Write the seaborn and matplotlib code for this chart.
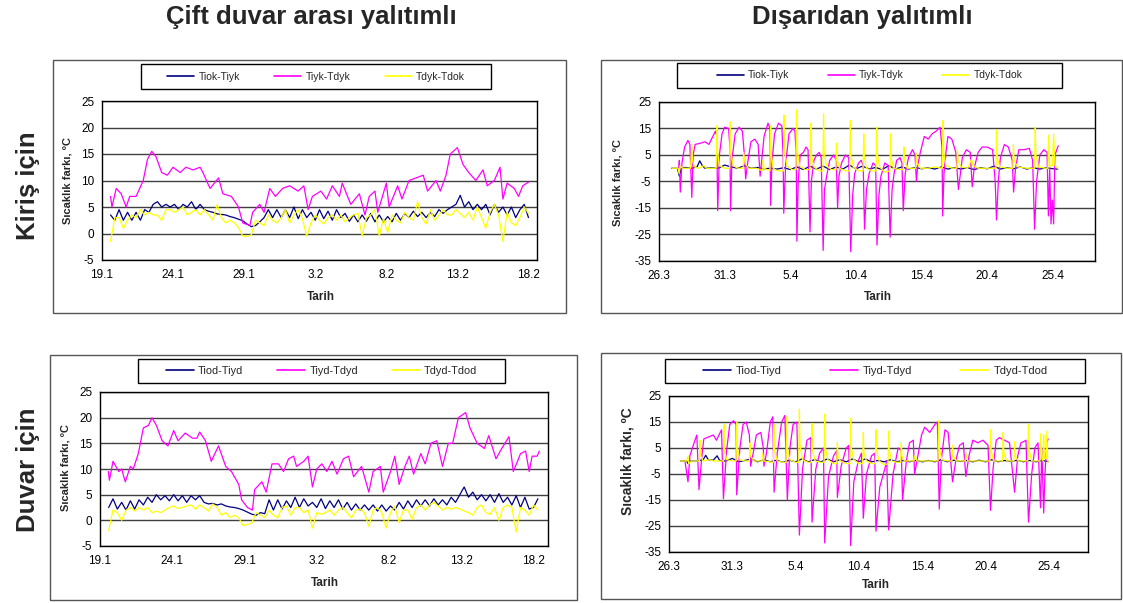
import numpy as np
import matplotlib
matplotlib.use("Agg")
import matplotlib.pyplot as plt
from matplotlib.lines import Line2D
from matplotlib.patches import Rectangle
import seaborn as sns

# ---------------- DATA ----------------
titles_col = ["Çift duvar arası yalıtımlı", "Dışarıdan yalıtımlı"]
titles_row = ["Kiriş için", "Duvar için"]
ylabel = "Sıcaklık farkı, ºC"
xlabel = "Tarih"

left_ticks = ["19.1", "24.1", "29.1", "3.2", "8.2", "13.2", "18.2"]
right_ticks = ["26.3", "31.3", "5.4", "10.4", "15.4", "20.4", "25.4"]
left_yticks = [-5, 0, 5, 10, 15, 20, 25]
right_yticks = [-35, -25, -15, -5, 5, 15, 25]

names_top = ["Tiok-Tiyk", "Tiyk-Tdyk", "Tdyk-Tdok"]
names_bot = ["Tiod-Tiyd", "Tiyd-Tdyd", "Tdyd-Tdod"]

# ---- Top-left (Kiriş, çift duvar arası) : days since 19.1
tl_blue_t0, tl_step = 0.6, 0.3
tl_blue = [3.5, 2.5, 4.5, 2.5, 4, 2.5, 4, 2.5, 4.5, 4, 5.5, 6, 5, 5.5, 5, 5.5, 4.5, 5.5, 5, 6,
           4.5, 5.5, 4.5, 4.2, 4, 3.7, 3.6, 3.5, 3.2, 3, 2.7, 2.4, 1.8, 1.3, 1.5, 2.2, 3, 4.5, 3, 4.5,
           3, 4.5, 3, 5, 2.8, 4.5, 3, 4, 2.5, 4.5, 2.8, 4.2, 2.5, 4.5, 3, 3.8, 2.3, 3.5, 2.2, 3.5,
           2.3, 3.8, 2.2, 3.5, 2.2, 3.2, 2.2, 3.8, 2.5, 3.8, 3, 4.2, 3.2, 4, 3, 4, 3.2, 4.5, 3.8, 4.5,
           5, 5.5, 7.2, 5, 6, 4.5, 5.5, 4.5, 5.5, 3.5, 5.5, 4, 5, 3.5, 5, 3, 4.5, 5.5, 3]
tl_yel = [-1.5, 3, 3, 1, 2.5, 3.5, 3, 4.5, 3.5, 4, 3.5, 3.5, 2.5, 4.5, 4.5, 4, 4.5, 5, 3.5, 4,
          4.5, 3.5, 4.5, 3.5, 2.5, 5.5, 3, 2, 2.5, 2, 1.2, -0.5, -0.5, -0.3, 2.5, 2, 1.5, 3.5, 2.5, 2,
          3, 4.5, 2, 3.5, 4.5, 2.8, -0.5, 2, 3.5, 2.5, 1.8, 3, 3.5, 2.5, 3.5, 2.2, 3, 3.5, 3.8, -0.5,
          3, 3.5, 4.5, -0.5, 2.8, 0.2, 3.5, 2.5, 2, 4, 3, 2.5, 6, 3, 1.8, 4.5, 2.5, 3.5, 4.5, 3.5,
          3.5, 4.5, 3.8, 3, 4, 2.5, 5, 3, 1, 4, 5.5, 3.5, -1.5, 4, 2, 1.5, 3, 5, 3.8]
tl_pink_t = [0.6, 0.7, 1.0, 1.35, 1.7, 1.95, 2.4, 2.9, 3.2, 3.5, 3.8, 4.2, 4.6, 5.0, 5.5, 5.9, 6.4, 6.9,
             7.1, 7.6, 8.2, 8.5, 9.1, 9.6, 9.9, 10.4, 10.6, 11.1, 11.4, 11.8, 12.2, 12.7, 13.2, 13.8,
             14.2, 14.5, 14.8, 15.4, 15.8, 16.2, 16.7, 16.9, 17.5, 18.1, 18.5, 18.8, 19.2, 19.4, 20.0,
             20.2, 20.8, 21.1, 21.6, 22.1, 22.6, 22.9, 23.5, 23.8, 24.2, 24.5, 25.0, 25.4, 25.8, 26.3,
             26.8, 27.1, 27.6, 28.0, 28.2, 28.5, 29.0, 29.3, 29.6, 30.0]
tl_pink = [7, 5, 8.5, 7.5, 5, 7, 7, 10, 14, 15.5, 14.5, 11.5, 11, 12.5, 11.5, 12.5, 12, 12.5,
           11.5, 8.5, 10.5, 7.5, 7, 5, 2, 1.5, 4, 5.5, 4, 8.5, 7, 8.5, 9, 8,
           9, 4.5, 7, 8, 6.5, 9, 7, 9.5, 5.5, 7.5, 3.5, 7, 8, 4, 9.5,
           5, 9, 6.5, 10, 10.5, 11, 8, 10, 8, 11, 15, 16.2, 13, 11.5, 10,
           12, 9, 10, 12.5, 6.5, 9.5, 8.5, 7, 9, 9.7]

# ---- Bottom-left (Duvar, çift duvar arası)
bl_blue_t0, bl_step = 0.6, 0.3
bl_blue = [2.5, 4.2, 2.2, 3.5, 2, 3.8, 2.2, 4, 3, 4.5, 3.5, 5, 4, 4.8, 3.8, 5, 3.8, 4.8, 3.5, 4.8,
           4, 4.8, 3.5, 3.2, 3.3, 3, 3.2, 2.8, 2.6, 2.5, 2.3, 2, 1.6, 1.2, 1, 1.5, 1.3, 4, 2, 4,
           2.2, 3.8, 2.5, 4.5, 2.5, 4.2, 2.8, 3.5, 2.5, 4.2, 2.3, 3.8, 2.5, 4, 2.2, 3.5, 2, 3.2, 2, 3,
           2, 3, 1.8, 3, 1.8, 2.8, 2, 3.5, 2.2, 3.8, 2.5, 4, 2.8, 4, 2.8, 4.2, 3, 4, 3, 4.5,
           3.5, 5, 6.5, 4.5, 5.5, 4, 5, 3.8, 5, 3.5, 5.2, 3.5, 4.5, 3, 4.8, 2.5, 4.5, 2.2, 2.5, 4.2]
bl_yel = [-2, 2, 1.5, 0, 2, 2.5, 1.8, 2.5, 2, 2.5, 1.5, 1.8, 1.5, 2, 2.5, 2.8, 2.3, 2.5, 2.8, 3,
          2.2, 3, 2.5, 1.8, 3.2, 2.5, 1, 1.5, 0.5, 1, 0.5, -1, -0.8, -0.5, 1.5, 1, 0.5, 2, 1, 0.5,
          2.5, 2.8, 1, 2.5, 2.5, 1.5, 2, -1.5, 1.5, 1.2, 1.5, 2, 1, 2, 2.5, 1.5, 0.5, 2, 2.2, 1.5,
          -1.2, 2, 2.5, 1.5, -1.5, 1.5, 2.8, -0.5, 2, 2, 0.2, 2.5, 3, 2, 3, 3.5, 2.8, 2, 2.5, 2.2,
          2.5, 2.2, 1.8, 1.5, 1, 2.5, 3, 1.5, 1.2, 2.5, 0, 2.5, 3, 2.5, -2.3, 2.5, 2, 1, 3, 2]
bl_pink_t = [0.58, 0.65, 0.9, 1.3, 1.5, 1.75, 2.1, 2.3, 2.65, 3.0, 3.35, 3.6, 3.9, 4.3, 4.7, 5.1, 5.4,
             5.9, 6.4, 6.7, 6.9, 7.3, 7.7, 8.2, 8.7, 9.1, 9.6, 9.8, 10.2, 10.55, 10.7, 11.2, 11.5,
             11.9, 12.35, 12.7, 13.05, 13.4, 13.6, 14.1, 14.4, 14.7, 15.0, 15.35, 15.7, 16.05, 16.4,
             16.85, 17.2, 17.55, 18.1, 18.6, 18.9, 19.4, 19.6, 20.1, 20.4, 20.7, 21.1, 21.4, 21.7,
             22.2, 22.5, 22.9, 23.3, 23.7, 24.1, 24.4, 24.8, 25.3, 25.6, 26.1, 26.6, 26.9, 27.4,
             27.8, 28.3, 28.6, 29.1, 29.45, 29.7, 29.9, 30.25, 30.4]
bl_pink = [9.5, 7.8, 11.5, 9.5, 10, 7.5, 10.5, 10, 13, 18, 18.5, 20, 18.5, 15.5, 14.5, 17.5, 15.5,
           17, 16, 16, 17.2, 15.5, 11.5, 14.5, 10.5, 9.5, 7, 4, 2.5, 2, 6, 7.5, 5.5,
           11, 11, 9.5, 12, 12.5, 10.5, 11.5, 12.5, 6.5, 10, 11, 9.5, 11.5, 9,
           12, 12.5, 8.5, 10.5, 5.5, 9.5, 10.5, 5.5, 9.5, 12.5, 7, 10.5, 12.5, 9,
           13, 11, 15, 15.5, 10.5, 15, 15, 20, 21, 18, 15, 14, 16.5, 12,
           14, 16.3, 9.5, 13, 13.5, 9.5, 12.5, 12.5, 13.5]

# ---- Top-right (Kiriş, dışarıdan) : days since 26.3
tr_blue_t = [0.97, 1.4, 1.55, 1.7, 2.0, 2.5, 2.9, 3.1, 3.3, 3.5, 4.0, 4.5, 5.0, 5.5, 6.0, 6.5, 7.0,
             7.5, 8.0, 8.5, 9.0, 9.5, 10.0, 10.5, 11.0, 11.5, 12.0, 12.5, 13.0, 13.5, 14.0, 14.5,
             15.0, 15.5, 16.0, 16.5, 17.0, 17.5, 18.0, 18.5, 19.0, 19.5, 20.0, 20.5, 21.0, 21.5,
             22.0, 22.5, 23.0, 23.5, 24.0, 24.5, 25.0, 25.5, 26.0, 26.5, 27.0, 27.5, 28.0, 28.5,
             29.0, 29.5, 30.0, 30.36]
tr_blue = [0, 0, -3, 0, 0.3, 0, 0.5, 2.8, 1, 0, 0.2, 0, 1.2, 0.5, 0, 1, 0,
           0.3, -0.2, 0, -0.3, 0.2, -0.5, 0.5, -0.5, 0.8, -0.3, 0.8, -0.5, 0.5, -0.3, 1.2,
           -0.2, 0.8, -0.3, 0.3, -0.5, 1, -0.3, 0.5, -0.3, 0.3, -0.2, 0.2, -0.3, 0.5,
           -0.3, 0.2, -0.3, 0.2, -0.5, 0.2, -0.2, 0.8, -0.3, 0.2, -0.2, 0.5, -0.3, 0.2,
           -0.3, 0.2, -0.2, -0.3]
tr_pink_t = [1.5, 1.55, 1.62, 1.75, 1.95, 2.2, 2.35, 2.5, 2.6, 2.75, 3.2, 3.5, 3.8, 4.0, 4.3, 4.4,
             4.47, 4.6, 4.8, 5.0, 5.3, 5.4, 5.45, 5.55, 5.8, 6.1, 6.35, 6.5, 6.6, 6.75, 7.0, 7.3,
             7.55, 7.7, 7.8, 8.0, 8.3, 8.45, 8.5, 8.6, 8.8, 9.1, 9.35, 9.45, 9.5, 9.65, 9.9, 10.2,
             10.35, 10.45, 10.5, 10.6, 10.75, 11.0, 11.2, 11.35, 11.5, 11.6, 11.8, 12.0, 12.2,
             12.35, 12.5, 12.6, 12.8, 13.0, 13.3, 13.5, 13.6, 13.7, 13.9, 14.2, 14.45, 14.6, 14.75,
             14.9, 15.2, 15.4, 15.55, 15.65, 15.8, 16.0, 16.3, 16.5, 16.6, 16.75, 16.9, 17.2,
             17.45, 17.6, 17.75, 17.9, 18.1, 18.35, 18.5, 18.6, 18.75, 19.0, 19.3, 19.5, 19.6,
             19.7, 19.9, 20.2, 20.5, 20.8, 21.1, 21.4, 21.55, 21.6, 21.7, 21.85, 22.0, 22.3, 22.6,
             22.8, 22.95, 23.1, 23.4, 23.7, 23.85, 24.0, 24.3, 24.6, 25.0, 25.4, 25.6, 25.7,
             25.85, 26.0, 26.3, 26.6, 26.9, 27.0, 27.15, 27.4, 27.8, 28.2, 28.45, 28.6, 28.75,
             29.0, 29.3, 29.55, 29.65, 29.75, 29.85, 29.95, 30.05, 30.15, 30.4]
tr_pink = [0, 3, -9, 2, 8, 10.5, 9, -11, 5, 9, 9.5, 10, 9, 11, 14, 12,
           -16, 5, 13, 15.5, 15, 8, -16, 3, 13, 15.5, 14, 5, -4, 2, 10, 11,
           9, -3, 2, 12, 17, 15, -14, 2, 13, 17, 16, 5, -17, 2, 13, 15,
           14, 5, -27.5, -5, 5, 6, 8, 7, -24, -5, 3, 5, 6,
           4, -31, -8, -2, 3, 5, 3, -15, -3, 2, 5, 4, -31.5, -10,
           -2, 2, 3, 1, -23, -8, -2, 2, 1, -29, -10, -3, 2,
           1, -26, -8, -2, 3, 4, 2, -16, -2, 4, 7, 5, -5,
           1, 6, 12, 11, 13, 14, 15.5, 8, -18, -2, 6, 12, 11, 6,
           -8, -2, 4, 7, 6, -7, 0, 6, 8, 8, 7, -5, -19.5,
           -4, 4, 9, 8, 3, -9, 0, 7, 7, 7.5, 3, -23, -5,
           5, 7, 6, -18, 0, -21, -12, -21, 5, 8.5]
tr_yel_t = [1.0, 1.45, 1.53, 1.6, 1.8, 2.4, 2.5, 2.55, 2.7, 3.0, 3.4, 3.6, 4.35, 4.41, 4.46, 4.6,
            5.0, 5.38, 5.43, 5.48, 5.65, 6.0, 6.4, 6.45, 6.55, 6.8, 7.4, 7.9, 7.93, 8.0, 8.45, 8.5,
            8.56, 8.7, 9.0, 9.47, 9.52, 9.57, 9.75, 10.1, 10.43, 10.48, 10.53, 10.7, 11.1, 11.5,
            11.56, 11.61, 11.8, 12.2, 12.48, 12.53, 12.58, 12.75, 13.1, 13.47, 13.52, 13.58, 13.75,
            14.2, 14.52, 14.57, 14.62, 14.8, 15.2, 15.54, 15.59, 15.64, 15.8, 16.2, 16.53, 16.58,
            16.63, 16.8, 17.2, 17.58, 17.63, 17.68, 17.85, 18.3, 18.6, 18.65, 18.7, 18.9, 19.3,
            19.55, 19.6, 19.65, 19.9, 20.5, 21.0, 21.58, 21.63, 21.68, 21.85, 22.3, 22.68, 22.73,
            22.78, 23.0, 23.5, 23.8, 23.9, 24.3, 25.0, 25.66, 25.71, 25.76, 25.95, 26.5, 26.94,
            26.99, 27.04, 27.3, 28.0, 28.6, 28.65, 28.7, 28.9, 29.4, 29.62, 29.67, 29.75, 29.95,
            30.05, 30.15, 30.36]
tr_yel = [0, 0, -2, 1, 0, 0, 9, 3, 0.5, 0, 1, 0, 0, 16, 6, 1,
          0, 0, 17.5, 6, 1, 0, 0, 6, 2, 0, 0, -1, 3, 0, -1, 16,
          5, 0, -1, -1, 20, 6, 1, -0.5, -0.5, 22, 7, 1, -0.5, -0.5,
          17, 5, 0.5, -1, -1, 20.5, 6, 1, -0.5, -0.5, 9.5, 3, 0,
          -1, -1, 18, 5, 0.5, -1, -1, 13, 4, 0, -1, -1, 15.5,
          5, 0.5, -1.5, -1, 13, 4, 0, -0.5, -0.5, 8, 3, 0, 0,
          0, 5.5, 2, 0, 0, 0.5, 0, 18, 6, 1, 0, 0, 7,
          3, 0.5, 0, 3.5, 1, 0, 0, 0, 14.5, 4, 0.5, 0, 0,
          9, 3, 0.5, 0, 0, 15.5, 5, 0.5, 0, 0, 12.5, 1, 1,
          13, 1, 0]

# ---- Bottom-right (Duvar, dışarıdan)
br_blue_t = [0.9, 1.4, 1.5, 1.7, 2.2, 2.7, 2.9, 3.1, 3.5, 3.8, 4.0, 4.5, 5.0, 5.5, 6.0, 6.5, 7.0,
             7.5, 8.0, 8.5, 9.0, 9.5, 10.0, 10.5, 11.0, 11.5, 12.0, 12.5, 13.0, 13.5, 14.0, 14.5,
             15.0, 15.5, 16.0, 16.5, 17.0, 17.5, 18.0, 18.5, 19.0, 19.5, 20.0, 20.5, 21.0, 21.5,
             22.0, 22.5, 23.0, 23.5, 24.0, 24.5, 25.0, 25.5, 26.0, 26.5, 27.0, 27.5, 28.0, 28.5,
             29.0, 29.5, 29.95]
br_blue = [0, 0, -1, 0, 0, 0.5, 2.2, 0.5, 0.3, 2, 0.2, 0, 1, -0.3, 0.2, 0.8, -0.3,
           0.5, -0.3, 0.3, -0.5, 0.3, -0.3, 0.8, -0.3, 0.5, -0.3, 0.8, -0.3, 0.5, -0.3, 0.8,
           -0.3, 0.8, -0.3, 0.2, -0.3, 0.5, -0.3, 0.2, -0.3, 0.2, -0.3, 0.2, -0.3, 0.5,
           -0.3, 0.3, -0.2, 0.2, -0.3, 0.3, -0.3, 0.5, -0.3, 0.2, -0.2, 0.3, -0.3, 0.2,
           -0.3, 0.2, -0.2]
br_pink_t = [1.26, 1.5, 1.65, 2.05, 2.2, 2.37, 2.6, 2.75, 3.5, 3.75, 4.15, 4.3, 4.55, 4.8, 5.1,
             5.3, 5.35, 5.6, 5.85, 6.1, 6.35, 6.45, 6.65, 6.9, 7.25, 7.45, 7.5, 7.7, 8.0, 8.2, 8.3,
             8.55, 8.9, 9.15, 9.35, 9.55, 9.8, 10.1, 10.3, 10.55, 10.9, 11.2, 11.3, 11.6, 11.9,
             12.2, 12.3, 12.6, 13.0, 13.25, 13.3, 13.6, 14.0, 14.2, 14.35, 14.6, 14.95, 15.2,
             15.35, 15.6, 16.0, 16.25, 16.35, 16.65, 17.05, 17.2, 17.35, 17.7, 18.1, 18.35, 18.45,
             18.75, 19.0, 19.3, 19.4, 19.7, 19.95, 20.2, 20.6, 21.0, 21.2, 21.35, 21.5, 21.8,
             22.05, 22.4, 22.65, 22.95, 23.25, 23.45, 23.7, 24.0, 24.4, 24.8, 25.2, 25.4, 25.6,
             25.85, 26.1, 26.5, 26.9, 27.3, 27.55, 27.8, 28.05, 28.2, 28.4, 28.65, 28.9, 29.15,
             29.35, 29.45, 29.6, 29.7, 29.85, 29.95]
br_pink = [0, -8, 2, 8, 10, -11, 2, 8.5, 10, 8, 12, -14.5, 4, 14, 15.5,
           14, -13, 5, 14, 15, 10, -2, 3, 10, 11, 5, -2, 3, 15, 17, -12,
           3, 15, 17.5, -15, 5, 14, 15, -28.5, -3, 8, 9, -23.5, -3, 3,
           5, -31.5, -6, 2, 4, -14, -2, 5, 6, -32.5, -8, 0, 3,
           -22, -5, 2, 3, -27, -10, -3, 0, -26.5, -5, 5, 4, -15,
           0, 7, 8, -5, 3, 10, 13, 11, 14, 15, -18.5, 0, 12,
           11, -8, 0, 6, 7, -6, 2, 8, 7, 8, 6, -19, -3,
           8, 9, 8, 7, -12, 2, 7, 7.5, 8, -23.5, -5, 5, 7,
           -18, 5, -20, -5, 7, 8.5]
br_yel_t = [0.9, 1.4, 1.5, 1.55, 1.8, 2.4, 2.45, 2.5, 2.7, 3.2, 3.5, 4.3, 4.35, 4.4, 4.55, 5.0,
            5.3, 5.35, 5.4, 5.6, 6.0, 6.35, 6.4, 6.45, 6.7, 7.35, 7.4, 7.5, 8.25, 8.3, 8.35, 8.55,
            9.0, 9.25, 9.3, 9.35, 9.55, 10.0, 10.25, 10.3, 10.35, 10.55, 11.0, 11.25, 11.3, 11.35,
            11.55, 12.0, 12.25, 12.3, 12.35, 12.55, 13.0, 13.25, 13.3, 13.35, 13.55, 14.0, 14.3,
            14.35, 14.4, 14.6, 15.0, 15.3, 15.35, 15.4, 15.6, 16.0, 16.3, 16.35, 16.4, 16.6, 17.0,
            17.3, 17.35, 17.4, 17.6, 18.0, 18.3, 18.35, 18.4, 18.6, 19.0, 19.35, 19.4, 19.6, 20.5,
            21.25, 21.3, 21.35, 21.55, 22.0, 22.35, 22.4, 22.45, 22.7, 23.4, 23.45, 23.6, 24.5,
            25.35, 25.4, 25.45, 25.65, 26.35, 26.4, 26.45, 26.7, 27.25, 27.3, 27.35, 27.6, 28.35,
            28.4, 28.45, 28.65, 29.3, 29.35, 29.45, 29.55, 29.6, 29.65, 29.8, 29.85, 29.9, 29.95]
br_yel = [0, 0, 2, -1, 0, 0, 8, 2, 0, 0.5, 0, 0, 14, 4, 0.5, 0,
          0, 15, 5, 0.5, 0, 0, 7, 2, 0, 0, 3, 0, -0.5, 14, 4, 0,
          -0.5, -0.5, 17, 5, 0.5, -0.5, -0.5, 20, 6, 0.5, -0.5, -0.5, 14.5, 4,
          0, -0.5, -0.5, 18, 5, 0.5, -1, -1, 7, 2, 0, -1, -1,
          16.5, 5, 0.5, -1, -1, 11, 3, 0, -1, -1, 12, 4, 0, -1.5,
          -1, 11.5, 4, 0, -0.5, -0.5, 7, 2, 0, 0, 0, 2, 0, 0,
          0, 15.5, 5, 0.5, 0, 0, 6, 2, 0, 0, 3, 0, 0,
          0, 12, 4, 0, 0, 11, 3, 0, 0, 7.5, 2, 0, 0,
          14, 4, 0, 0, 10.5, 1, 0, 10, 1, 1, 11.5, 1, -0.5]

# ---------------- FIGURE ----------------
W, H = 1123, 603
sns.set_style("white")
plt.rcParams['font.family'] = ['Liberation Sans', 'DejaVu Sans']
fig = plt.figure(figsize=(W / 100, H / 100), dpi=100)
fig.patch.set_facecolor("white")


def fbox(l, t, r, b):
    return [l / W, 1 - b / H, (r - l) / W, (b - t) / H]


def frect(box, ec, lw, z):
    l, t, r, b = box
    fig.patches.append(Rectangle((l / W, 1 - b / H), (r - l) / W, (b - t) / H,
                                 transform=fig.transFigure, fill=True, facecolor="none",
                                 edgecolor=ec, linewidth=lw, zorder=z))


BLUE, PINK, YEL = "#000080", "#FF00FF", "#FFFF00"

panels = [
    dict(frame=(53, 60, 566, 313), leg=(141, 64, 491, 89), plot=(102, 101, 537, 260),
         xlim=30.6, ylim=(-5, 25), yt=left_yticks, xt=left_ticks, names=names_top,
         blue=(tl_blue_t0 + tl_step * np.arange(len(tl_blue)), tl_blue),
         pink=(tl_pink_t, tl_pink),
         yel=(tl_blue_t0 + tl_step * np.arange(len(tl_yel)), tl_yel),
         ylab=(67, 181), xlab=(321, 297), ylfs=8, colsp=3.3, legfs=7.5),
    dict(frame=(601, 60, 1122, 313), leg=(677, 63, 1062, 88), plot=(659, 102, 1095, 261),
         xlim=33.2, ylim=(-35, 25), yt=right_yticks, xt=right_ticks, names=names_top,
         blue=(tr_blue_t, tr_blue), pink=(tr_pink_t, tr_pink), yel=(tr_yel_t, tr_yel),
         ylab=(617, 183), xlab=(878, 297), ylfs=8, colsp=3.7, legfs=7.5),
    dict(frame=(50, 355, 577, 600), leg=(138, 359, 505, 383), plot=(100, 392, 548, 546),
         xlim=31.0, ylim=(-5, 25), yt=left_yticks, xt=left_ticks, names=names_bot,
         blue=(bl_blue_t0 + bl_step * np.arange(len(bl_blue)), bl_blue),
         pink=(bl_pink_t, bl_pink),
         yel=(bl_blue_t0 + bl_step * np.arange(len(bl_yel)), bl_yel),
         ylab=(65, 468), xlab=(325, 583), ylfs=8, colsp=3.1, legfs=7.8),
    dict(frame=(601, 353, 1121, 599), leg=(665, 359, 1085, 383), plot=(669, 396, 1088, 552),
         xlim=33.1, ylim=(-35, 25), yt=right_yticks, xt=right_ticks, names=names_bot,
         blue=(br_blue_t, br_blue), pink=(br_pink_t, br_pink), yel=(br_yel_t, br_yel),
         ylab=(628, 461), xlab=(876, 585), ylfs=10, colsp=4.3, legfs=8),
]

for p in panels:
    frect(p["frame"], "#555555", 1.0, 0)
    ax = fig.add_axes(fbox(*p["plot"]))
    ax.set_facecolor("white")
    for s in ax.spines.values():
        s.set_color("black")
        s.set_linewidth(1.0)
    ax.yaxis.grid(True, color="#404040", linewidth=1.0)
    ax.xaxis.grid(False)
    ax.set_axisbelow(True)

    sns.lineplot(x=np.asarray(p["blue"][0]), y=np.asarray(p["blue"][1]), ax=ax, color=BLUE,
                 linewidth=0.9, estimator=None, sort=False, legend=False)
    sns.lineplot(x=np.asarray(p["pink"][0]), y=np.asarray(p["pink"][1]), ax=ax, color=PINK,
                 linewidth=0.9, estimator=None, sort=False, legend=False)
    sns.lineplot(x=np.asarray(p["yel"][0]), y=np.asarray(p["yel"][1]), ax=ax, color=YEL,
                 linewidth=0.9, estimator=None, sort=False, legend=False)

    ax.set_xlim(0, p["xlim"])
    ax.set_ylim(*p["ylim"])
    ax.set_yticks(p["yt"])
    ax.set_yticklabels([str(v) for v in p["yt"]])
    ax.set_xticks([0, 5, 10, 15, 20, 25, 30])
    ax.set_xticklabels(p["xt"])
    ax.tick_params(axis="both", direction="out", length=3.5, width=0.8, color="black",
                   labelsize=8.5, pad=2, labelcolor="black")
    ax.tick_params(axis="x", pad=3)
    ax.set_xlabel("")
    ax.set_ylabel("")

    xl, yl = p["ylab"]
    fig.text(xl / W, 1 - yl / H, ylabel, rotation=90, ha="center", va="center",
             fontsize=p["ylfs"], fontweight="bold")
    xl, yl = p["xlab"]
    fig.text(xl / W, 1 - yl / H, xlabel, ha="center", va="center", fontsize=8.5,
             fontweight="bold")

    # legend: separate box + frameless centred entries
    l, t, r, b = p["leg"]
    fig.patches.append(Rectangle((l / W, 1 - b / H), (r - l) / W, (b - t) / H,
                                 transform=fig.transFigure, facecolor="white",
                                 edgecolor="black", linewidth=1.0, zorder=1))
    handles = [Line2D([], [], color=c, lw=1.2) for c in (BLUE, PINK, YEL)]
    fig.legend(handles, p["names"], loc="center",
               bbox_to_anchor=((l + r) / 2 / W, 1 - (t + b) / 2 / H),
               bbox_transform=fig.transFigure, ncol=3, frameon=False,
               fontsize=p["legfs"], handlelength=2.6, handletextpad=0.4,
               columnspacing=p["colsp"], borderpad=0.2, borderaxespad=0)

# titles
fig.text(311 / W, 1 - 17 / H, titles_col[0], ha="center", va="center", fontsize=18.5,
         fontweight="bold")
fig.text(862 / W, 1 - 17 / H, titles_col[1], ha="center", va="center", fontsize=18.5,
         fontweight="bold")
fig.text(28 / W, 1 - 186 / H, titles_row[0], rotation=90, ha="center", va="center",
         fontsize=18.5, fontweight="bold")
fig.text(28 / W, 1 - 470 / H, titles_row[1], rotation=90, ha="center", va="center",
         fontsize=18.5, fontweight="bold")

fig.savefig("out.png", dpi=100, facecolor="white")
